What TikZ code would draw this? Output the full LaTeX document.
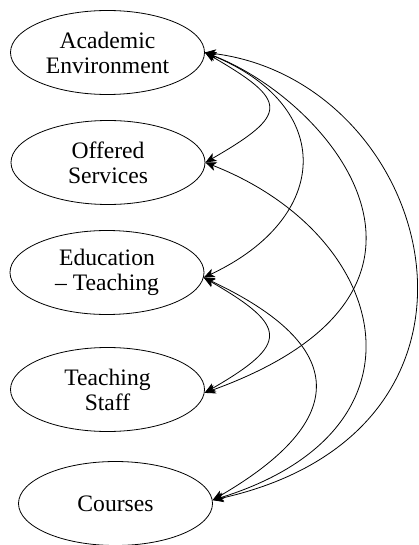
\documentclass[tikz,border=0pt]{standalone}
\usepackage{fontspec}
\setmainfont{Liberation Serif}
\usetikzlibrary{shapes.geometric,arrows.meta}
\begin{document}
\begin{tikzpicture}[x=1pt,y=-1pt,
  factor/.style={draw, ellipse, line width=0.8pt, minimum width=194pt,
    minimum height=84pt, inner sep=0pt, align=center,
    font=\fontsize{23.6}{25}\selectfont},
  tip/.tip={Stealth[length=11pt,width=9pt,inset=3pt]},
  link/.style={line width=0.8pt, tip-tip}]
\useasboundingbox (0,0) rectangle (419,545);

% factors
\node[factor] (env) at (107.5,52.5)  {Academic\\Environment};
\node[factor] (srv) at (108,162.5)   {Offered\\Services};
\node[factor] (edu) at (107,272.5)   {Education\\– Teaching};
\node[factor] (stf) at (107.5,389.5) {Teaching\\Staff};
\node[factor] (crs) at (115.5,503.5) {Courses};

% correlations
\draw[link] (env.east) .. controls +(84,48.5)   and +(84,-48.5)   .. (srv.east);
\draw[link] (env.east) .. controls +(131,53)    and +(128,-60)    .. (edu.-3);
\draw[link] (env.east) .. controls +(125,47.5)  and +(285.5,-103) .. (stf.-2);
\draw[link] (env.east) .. controls +(230,27.5)  and +(317,-70)    .. (crs.2);
\draw[link] (srv.east) .. controls +(185,72.5)  and +(227,-70)    .. (crs.2);
\draw[link] (edu.-3)   .. controls +(85,49)     and +(85,-49)     .. (stf.-2);
\draw[link] (edu.-3)   .. controls +(145,68)    and +(139,-80.5)  .. (crs.2);
\end{tikzpicture}
\end{document}
